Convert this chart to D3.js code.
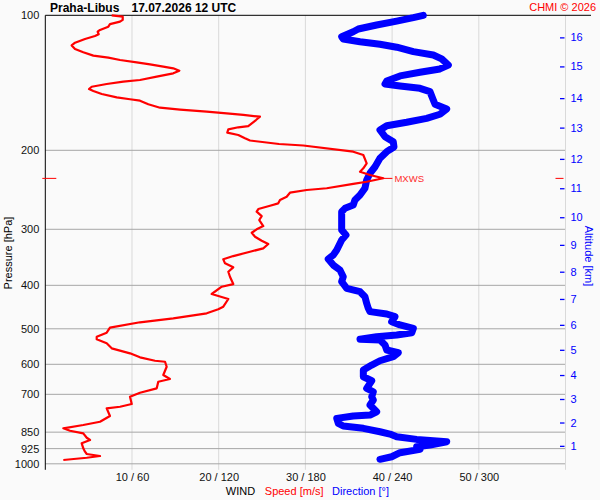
<!DOCTYPE html>
<html>
<head>
<meta charset="utf-8">
<script src="https://cdn.jsdelivr.net/npm/d3@7/dist/d3.min.js"></script>
<style>
body { margin: 0; background: #fafafa; }
svg { font-family: "Liberation Sans", Arial, sans-serif; display: block; }
</style>
</head>
<body>
<script>
//------------------------------------------------------------------------------
//
// Data
//
//------------------------------------------------------------------------------

var station = "Praha-Libus";
var issued = "17.07.2026 12 UTC";

var pressureTicks = [100, 200, 300, 400, 500, 600, 700, 850, 925, 1000];
var windTicks = [10, 20, 30, 40, 50];

// altitude [km] and the pressure level [hPa] it sits at
var altitudeKm = [1, 2, 3, 4, 5, 6, 7, 8, 9, 10, 11, 12, 13, 14, 15, 16];
var altitudePressure = [912, 809, 717, 634, 557, 490, 429, 373, 325, 282, 243, 209, 178, 153, 130, 112];

// wind speed [m/s]
var speedPressure = [100, 100.7, 102.4, 103.3, 104.6, 106, 107.8, 108.8, 110.2, 111.2, 112.9, 115.1, 116.7, 118.9,
  120.9, 123, 124.3, 125.8, 127.3, 128.6, 130.2, 131.3, 132.9, 134.7, 137, 139.4, 140.6, 142.3, 144.3, 146,
  147.5, 149.8, 152.4, 153.9, 155, 157.9, 160.7, 162.3, 164, 165.4, 166.8, 168.3, 171.2, 176.6, 177.7, 179.6,
  182.7, 184.9, 188, 190.2, 193.6, 195.1, 201.4, 204.9, 213.8, 219.4, 223.2, 227, 230.9, 235, 237.7, 243,
  245.2, 248.6, 253.8, 258.1, 262.6, 265.8, 270.4, 274.1, 280.3, 286.1, 295.1, 300.1, 305.4, 311.7, 318.2,
  323.6, 330.9, 336.7, 344.2, 350, 357.3, 364.7, 373.1, 382.8, 397.4, 402.9, 418.2, 429.1, 446.4, 452.4,
  461.8, 473.8, 483.6, 497.2, 510.2, 520.8, 527.8, 538.7, 552.8, 567.1, 578.9, 589.1, 592.2, 607.6, 620.2,
  634, 647.2, 656.2, 678.9, 694.4, 708.8, 735.8, 746.1, 752.3, 782.5, 805.7, 819.5, 833.5, 843.9, 855.2,
  874.7, 885.1, 900.3, 923.6, 939.8, 951, 960.9, 969.3, 980.7];
var speedValues = [7.66, 8.93, 8.93, 8.62, 7.46, 7.27, 6.31, 6.04, 6.16, 5.73, 4.58, 3.43, 3.04, 3.43,
  4.38, 5.54, 7.27, 8.62, 10.54, 12.08, 13.61, 14.76, 15.46, 14.76, 12.85, 10.92, 9, 7.08, 5.35, 5.04,
  5.54, 6.51, 8.24, 9.77, 10.92, 11.88, 13.23, 15.54, 18.62, 20.92, 22.84, 24.76, 24.3, 23.41, 22.26, 21.11,
  20.99, 22.26, 23.03, 23.61, 26.96, 29.76, 35.52, 36.68, 37.07, 36.68, 36.3, 37.45, 38.98, 37.07, 35.52, 32.46,
  30.15, 28.22, 27.84, 27.07, 26.87, 25.92, 24.57, 24.38, 24.96, 24.68, 25.14, 24.38, 23.81, 24.19, 24.96,
  25.72, 25.14, 23.61, 21.68, 20.53, 20.73, 21.68, 21.11, 21.3, 21.68, 20.35, 19.19, 21.11, 20.53, 19.95,
  18.62, 14.76, 10.92, 7.46, 7.08, 5.93, 5.93, 7.08, 7.66, 9.77, 10.92, 12.65, 13.81, 14, 13.81,
  13.61, 14.38, 13.03, 12.85, 10.92, 9.77, 9.97, 8.62, 7.08, 7.46, 6.31, 4.38, 2.08, 2.85, 4.38,
  4.78, 5.16, 4.2, 4.38, 4.58, 4.78, 6.31, 4.78, 2.08];

// wind direction [deg]
var dirPressure = [100, 101.2, 103, 105.1, 107.3, 108.8, 111.6, 112.9, 114.5, 116, 117.8, 120.5, 122.6, 125.1,
  129.1, 131.7, 134, 136.5, 140.1, 142.3, 143.8, 145.5, 148, 154.5, 157.9, 161.8, 166.2, 169.7, 173.2, 176.3,
  180.2, 186.5, 191.3, 196.6, 201.4, 208.4, 217.6, 225, 232.9, 243, 251.6, 258.1, 264.9, 269.4, 274.1, 286.1,
  301.2, 309, 317, 333.8, 342.5, 349.5, 360.5, 369.8, 382.8, 392.6, 406.2, 413.3, 424, 438.6, 450, 457.9,
  463.4, 469.9, 482.1, 490.3, 498.7, 510.2, 516.3, 520.8, 527.8, 529.7, 543.4, 557.6, 565.4, 577.1, 589.1,
  602.3, 618, 639.6, 652.9, 678.9, 690.8, 708.8, 720.8, 739.6, 765.5, 778.7, 782.6, 792, 812.5, 823.7, 833.5,
  848.3, 858.5, 870.5, 882.2, 893, 908.3, 916.3, 928.5, 944.7, 964.5, 977.2];
var dirValues = [261.6, 254.7, 243.2, 229.3, 216.6, 213.1, 205.1, 206.2, 217.8, 231.6, 243.2, 254.7, 268.5, 274.3,
  278.9, 273.1, 259.3, 245.5, 236.3, 235.1, 245.5, 259.3, 266.2, 268.5, 269.7, 277.8, 273.1, 263.9, 250.1, 236.3,
  231.6, 235.1, 240.8, 241.3, 236.3, 231.6, 228.2, 224.7, 222.4, 221.2, 217.8, 214.3, 213.1, 207.4, 205.1, 205.1,
  205.1, 208.1, 205.1, 201.7, 199.3, 195.8, 199.3, 203.9, 206.2, 205.1, 208.6, 217.8, 221.2, 222.4, 223.5, 224.7,
  236.3, 242, 239.7, 245.5, 254.7, 253.6, 243.2, 229.3, 217.8, 231.6, 235.1, 236.3, 244.3, 240.8, 231.6,
  225.9, 220.1, 220.1, 225.9, 222.4, 227, 225.9, 227, 224.7, 229.3, 224.7, 213.1, 201.7, 202.8, 206.2, 220.1,
  231.6, 238.5, 243.2, 257, 277.8, 266.2, 257, 259.3, 245.5, 239.7, 231.6];

// maximum wind
var mxwsPressure = 231;
var mxwsSpeed = 39;

(function() {

var chart = {

//------------------------------------------------------------------------------
//
// Properties
//
//------------------------------------------------------------------------------

width: 600,
height: 500,
left: 45.3,
right: 565.5,
top: 15.3,
bottom: 463.8,

//------------------------------------------------------------------------------
//
// Methods
//
//------------------------------------------------------------------------------

initialize : function() {
  this.svg = d3.select("body").append("svg")
    .attr("width", this.width)
    .attr("height", this.height);

  this.svg.append("rect")
    .attr("width", this.width)
    .attr("height", this.height)
    .attr("fill", "#fafafa");

  this.y = d3.scaleLog().domain([100, 1000]).range([this.top, this.bottom]);
  this.x = d3.scaleLinear().domain([0, 60]).range([this.left, this.right]);
  this.xDir = d3.scaleLinear().domain([0, 360]).range([this.left, this.right]);

  this.drawGrid();
  this.drawAxes();
  this.drawLines();
  this.drawLabels();
},

//--------------------------------------
// Grid
//--------------------------------------

drawGrid : function() {
  var $this = this;

  this.svg.append("g").selectAll("line")
    .data(windTicks)
    .enter().append("line")
      .attr("x1", function(d) { return $this.x(d); })
      .attr("x2", function(d) { return $this.x(d); })
      .attr("y1", this.top)
      .attr("y2", this.bottom + 6)
      .attr("stroke", "#d9d9d9");

  this.svg.append("g").selectAll("line")
    .data(pressureTicks.slice(1))
    .enter().append("line")
      .attr("x1", this.left)
      .attr("x2", this.right)
      .attr("y1", function(d) { return $this.y(d); })
      .attr("y2", function(d) { return $this.y(d); })
      .attr("stroke", "#a6a6a6");
},

//--------------------------------------
// Axes
//--------------------------------------

drawAxes : function() {
  var $this = this;

  // pressure
  var left = this.svg.append("g")
    .attr("transform", "translate(" + this.left + ",0)")
    .call(d3.axisLeft(this.y).tickValues(pressureTicks).tickFormat(d3.format("d")).tickSize(0).tickPadding(6));
  left.select(".domain").remove();
  left.selectAll("text").attr("font-size", 11).attr("font-family", null).attr("fill", "#111");

  // wind speed / direction
  var bottom = this.svg.append("g")
    .attr("transform", "translate(0," + this.bottom + ")")
    .call(d3.axisBottom(this.x).tickValues(windTicks)
      .tickFormat(function(d) { return d + " / " + d * 6; })
      .tickSize(0).tickPadding(9));
  bottom.select(".domain").remove();
  bottom.selectAll("text").attr("font-size", 11).attr("font-family", null).attr("fill", "#111");

  // altitude
  this.svg.append("line")
    .attr("x1", this.right).attr("x2", this.right)
    .attr("y1", this.top).attr("y2", this.bottom + 6)
    .attr("stroke", "#d9d9d9");

  var right = this.svg.append("g")
    .attr("transform", "translate(" + this.right + ",0)")
    .call(d3.axisRight(this.y).tickValues(altitudePressure)
      .tickFormat(function(d, i) { return altitudeKm[i]; })
      .tickSize(0).tickPadding(5));
  right.select(".domain").remove();
  right.selectAll(".tick line")
    .attr("x1", -5.5).attr("x2", -1)
    .attr("stroke", "#0000ff").attr("stroke-width", 1.3);
  right.selectAll("text").attr("font-size", 11).attr("font-family", null).attr("fill", "#0000ff");

  // frame
  this.svg.append("line")
    .attr("x1", this.left).attr("x2", this.left)
    .attr("y1", this.top).attr("y2", this.bottom + 6)
    .attr("stroke", "#000");
  this.svg.append("line")
    .attr("x1", this.left).attr("x2", 591)
    .attr("y1", this.top).attr("y2", this.top)
    .attr("stroke", "#000");
},

//--------------------------------------
// Wind lines
//--------------------------------------

drawLines : function() {
  var $this = this;

  var dirLine = d3.line()
    .x(function(d, i) { return $this.xDir(dirValues[i]); })
    .y(function(d) { return $this.y(d); });

  this.svg.append("path")
    .attr("d", dirLine(dirPressure))
    .attr("fill", "none")
    .attr("stroke", "#0000ff")
    .attr("stroke-width", 7)
    .attr("stroke-linejoin", "round")
    .attr("stroke-linecap", "round");

  var speedLine = d3.line()
    .x(function(d, i) { return $this.x(speedValues[i]); })
    .y(function(d) { return $this.y(d); });

  this.svg.append("path")
    .attr("d", speedLine(speedPressure))
    .attr("fill", "none")
    .attr("stroke", "#ff0000")
    .attr("stroke-width", 2.2)
    .attr("stroke-linejoin", "round");

  // max wind marker
  var my = this.y(mxwsPressure);
  this.svg.append("line")
    .attr("x1", this.x(mxwsSpeed)).attr("x2", this.x(mxwsSpeed) + 9)
    .attr("y1", my).attr("y2", my)
    .attr("stroke", "#ff0000");
  this.svg.append("text")
    .attr("x", this.x(mxwsSpeed) + 11)
    .attr("y", my + 3.5)
    .attr("font-size", 9.5)
    .attr("fill", "#ff2a2a")
    .text("MXWS");
  this.svg.append("line")
    .attr("x1", this.left - 3).attr("x2", this.left + 11)
    .attr("y1", my).attr("y2", my)
    .attr("stroke", "#ff0000");
  this.svg.append("line")
    .attr("x1", this.right - 10).attr("x2", this.right - 2)
    .attr("y1", my).attr("y2", my)
    .attr("stroke", "#ff0000");
},

//--------------------------------------
// Titles
//--------------------------------------

drawLabels : function() {
  this.svg.append("text")
    .attr("x", 50).attr("y", 11.5)
    .attr("font-size", 12).attr("font-weight", "bold")
    .text(station);
  this.svg.append("text")
    .attr("x", 131.5).attr("y", 11.5)
    .attr("font-size", 12).attr("font-weight", "bold")
    .text(issued);
  this.svg.append("text")
    .attr("x", 596).attr("y", 10.5)
    .attr("text-anchor", "end")
    .attr("font-size", 11).attr("fill", "#ff0000")
    .text("CHMI \u00a9 2026");

  this.svg.append("text")
    .attr("transform", "translate(12,253) rotate(-90)")
    .attr("text-anchor", "middle")
    .attr("font-size", 11)
    .text("Pressure [hPa]");
  this.svg.append("text")
    .attr("transform", "translate(585,256) rotate(90)")
    .attr("text-anchor", "middle")
    .attr("font-size", 11).attr("fill", "#0000ff")
    .text("Altitude [km]");

  var foot = [
    {text: "WIND", x: 225.8, color: "#000"},
    {text: "Speed [m/s]", x: 264.8, color: "#ff0000"},
    {text: "Direction [\u00b0]", x: 332, color: "#0000ff"}
  ];
  this.svg.append("g").selectAll("text")
    .data(foot)
    .enter().append("text")
      .attr("x", function(d) { return d.x; })
      .attr("y", 495)
      .attr("font-size", 11)
      .attr("fill", function(d) { return d.color; })
      .text(function(d) { return d.text; });
}

};

chart.initialize();

})();
</script>
</body>
</html>
